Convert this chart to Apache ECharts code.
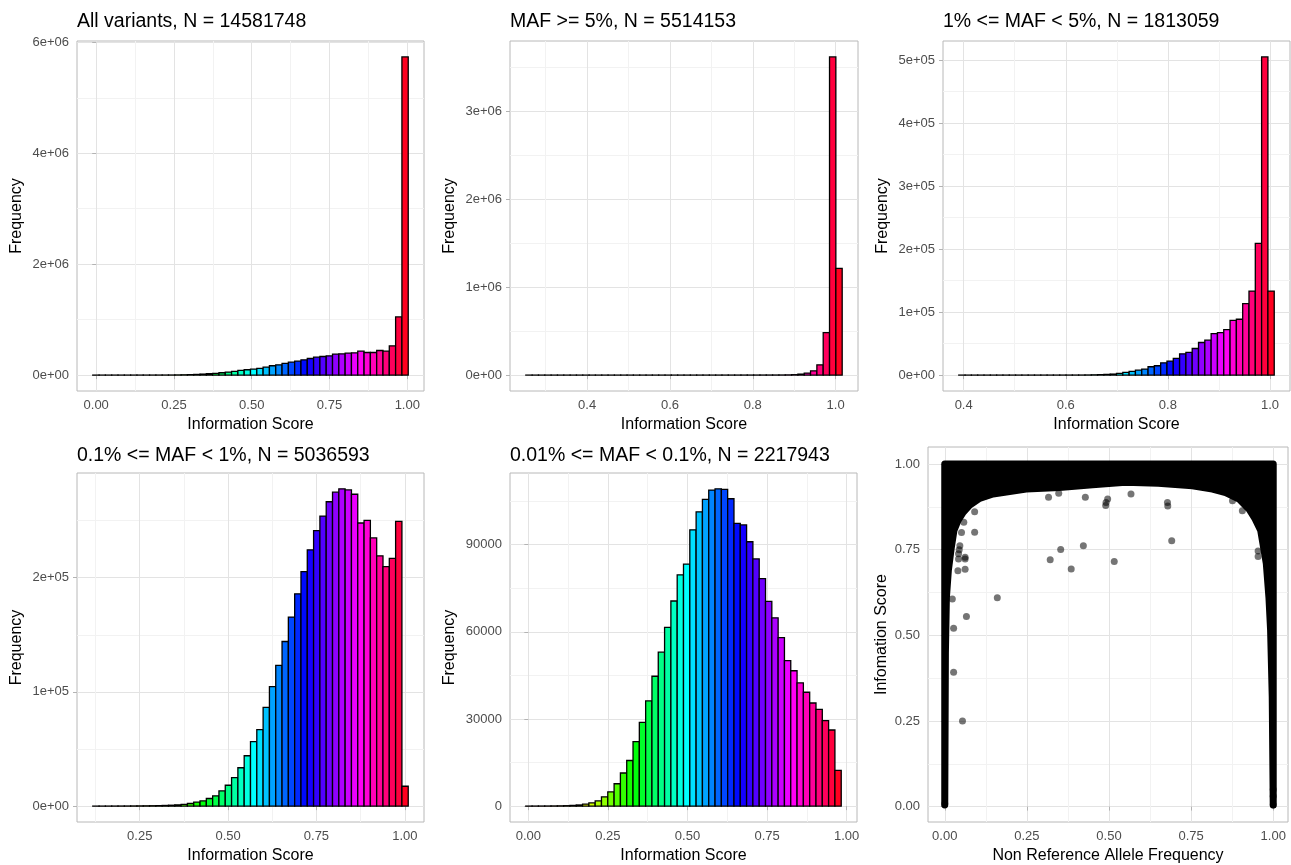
<!DOCTYPE html>
<html>
<head>
<meta charset="utf-8">
<title>info score histograms</title>
<script src="https://cdn.jsdelivr.net/npm/echarts@6/dist/echarts.min.js"></script>
<style>
  html, body { margin: 0; padding: 0; background: #fff; }
  #chart { width: 1291px; height: 865px; }
</style>
</head>
<body>
<div id="chart"></div>
<script>
// ---- data: 50 histogram bins per panel (left edge of first bin, bin width, counts) ----
var allStart = -0.011, allWidth = 0.02028;
var allCounts = [100, 120, 150, 180, 220, 270, 330, 400, 500, 650,
    850, 1100, 1600, 3000, 5000, 8000, 12000, 18000, 24000, 30000,
    42000, 54000, 66000, 84000, 96000, 108000, 120000, 144000, 168000, 186000,
    210000, 234000, 251000, 275000, 299000, 323000, 335000, 347000, 377000, 383000,
    395000, 401000, 431000, 407000, 407000, 443000, 431000, 527000, 1048000, 5737000];

var common5Start = 0.2519, common5Width = 0.01528;
var common5Counts = [5, 3, 4, 6, 5, 7, 8, 9, 11, 12,
    14, 16, 18, 21, 24, 28, 32, 37, 43, 50,
    58, 67, 78, 90, 105, 122, 142, 165, 192, 223,
    260, 300, 350, 400, 470, 550, 640, 750, 880, 1000,
    1300, 2200, 4500, 11000, 23000, 49000, 117000, 483000, 3620000, 1215000];

var low1Start = 0.3904, low1Width = 0.01236;
var low1Counts = [2, 2, 3, 3, 4, 5, 6, 7, 9, 11,
    13, 16, 20, 25, 31, 38, 47, 58, 75, 100,
    200, 400, 700, 1100, 1600, 2600, 4200, 5800, 7900, 9500,
    13200, 14800, 19500, 22200, 26400, 33800, 35900, 42200, 51700, 55400,
    65900, 67500, 72300, 87000, 88600, 113400, 133400, 208900, 505000, 133400];

var rare01Start = 0.1172, rare01Width = 0.01785;
var rare01Counts = [30, 40, 55, 75, 100, 130, 170, 220, 280, 350,
    450, 600, 800, 1100, 1500, 2300, 3500, 4600, 6700, 9000,
    13300, 18300, 24900, 33600, 44100, 56500, 67000, 86400, 104600, 123200,
    144100, 165500, 185800, 205200, 224300, 241200, 253900, 266400, 274800, 277700,
    276800, 273000, 247800, 250100, 234800, 219100, 209600, 216800, 249300, 17400];

var rare001Start = -0.008, rare001Width = 0.01982;
var rare001Counts = [20, 30, 40, 50, 70, 100, 150, 250, 400, 700,
    1100, 1800, 3200, 4900, 7700, 11400, 15700, 22200, 28800, 36200,
    44700, 53000, 61500, 70600, 79600, 83300, 95100, 101300, 105600, 108800,
    109200, 109000, 105800, 97300, 96800, 91000, 85100, 78300, 70500, 64800,
    58000, 50100, 46600, 42400, 39200, 35500, 33300, 29400, 26200, 12300];

// scatter: lower edge of the dense band (upper edge is info = 1) and the stray points
var bandX   = [0.000, 0.002, 0.005, 0.011, 0.020, 0.028, 0.040, 0.056, 0.076, 0.106,
    0.147, 0.248, 0.349, 0.450, 0.550, 0.650, 0.754, 0.815, 0.855, 0.896,
    0.926, 0.945, 0.962, 0.979, 0.987, 0.992, 0.997, 1.000];
var bandLow = [0.005, 0.45, 0.61, 0.69, 0.757, 0.806, 0.835, 0.859, 0.88, 0.90,
    0.913, 0.927, 0.932, 0.94, 0.947, 0.944, 0.937, 0.927, 0.917, 0.898,
    0.869, 0.84, 0.806, 0.709, 0.61, 0.515, 0.32, 0.005];
var bandTop = 1.0;
var strayPoints = [[0.160, 0.610], [0.321, 0.721], [0.353, 0.751], [0.385, 0.694], [0.422, 0.762],
    [0.516, 0.716], [0.691, 0.776], [0.678, 0.888], [0.679, 0.878], [0.091, 0.801],
    [0.091, 0.861], [0.066, 0.555], [0.054, 0.250], [0.027, 0.392], [0.027, 0.521],
    [0.023, 0.606], [0.040, 0.689], [0.062, 0.693], [0.062, 0.723], [0.062, 0.728],
    [0.042, 0.723], [0.042, 0.738], [0.044, 0.750], [0.046, 0.762], [0.051, 0.800],
    [0.058, 0.830], [0.491, 0.888], [0.496, 0.898], [0.490, 0.879], [0.567, 0.913],
    [0.316, 0.903], [0.347, 0.915], [0.428, 0.903], [0.954, 0.746], [0.954, 0.730],
    [0.906, 0.864], [0.876, 0.893], [0.0, 0.008], [1.0, 0.005], [1.0, 0.03], [1.0, 0.05]];

var titles = ['All variants, N = 14581748', 'MAF >= 5%, N = 5514153', '1% <= MAF < 5%, N = 1813059',
    '0.1% <= MAF < 1%, N = 5036593', '0.01% <= MAF < 0.1%, N = 2217943', ''];

// tick values per panel
var xTicks = [[0, 0.25, 0.5, 0.75, 1], [0.4, 0.6, 0.8, 1.0], [0.4, 0.6, 0.8, 1.0],
    [0.25, 0.5, 0.75, 1], [0, 0.25, 0.5, 0.75, 1], [0, 0.25, 0.5, 0.75, 1]];
var yTicks = [[0, 2e6, 4e6, 6e6], [0, 1e6, 2e6, 3e6], [0, 1e5, 2e5, 3e5, 4e5, 5e5],
    [0, 1e5, 2e5], [0, 30000, 60000, 90000], [0, 0.25, 0.5, 0.75, 1]];

// ---- layout ----
var boxes = [[77, 41, 347, 350], [510, 41, 348, 350], [943, 41, 347, 350],
             [77, 473, 347, 352], [510, 473, 347, 352], [928, 447, 360, 375]];
var xDecimals = [2, 1, 1, 2, 2, 2];
var font = "'Liberation Sans', Arial, sans-serif";

var hists = [
    [allStart, allWidth, allCounts],
    [common5Start, common5Width, common5Counts],
    [low1Start, low1Width, low1Counts],
    [rare01Start, rare01Width, rare01Counts],
    [rare001Start, rare001Width, rare001Counts]
];

function rainbow(h) {
    var i = Math.floor(h * 6), f = h * 6 - i, q = 1 - f, r, g, b;
    switch (i % 6) {
        case 0: r = 1; g = f; b = 0; break;
        case 1: r = q; g = 1; b = 0; break;
        case 2: r = 0; g = 1; b = f; break;
        case 3: r = 0; g = q; b = 1; break;
        case 4: r = f; g = 0; b = 1; break;
        default: r = 1; g = 0; b = q;
    }
    return 'rgb(' + Math.round(r * 255) + ',' + Math.round(g * 255) + ',' + Math.round(b * 255) + ')';
}

function sci(v) {
    if (v === 0) return '0e+00';
    var e = Math.floor(Math.log10(v) + 1e-9);
    var m = Math.round(v / Math.pow(10, e) * 100) / 100;
    return m + 'e+' + (e < 10 ? '0' + e : e);
}

function minors(majors, lo, hi) {
    var step = majors[1] - majors[0], out = [];
    for (var i = -1; i < majors.length; i++) {
        var v = majors[0] + (i + 0.5) * step;
        if (v > lo && v < hi) out.push(v);
    }
    return out;
}

// axis ranges (ggplot style 5% expansion)
var ranges = hists.map(function (h) {
    var n = h[2].length, span = n * h[1], mx = Math.max.apply(null, h[2]);
    return [h[0] - 0.05 * span, h[0] + span + 0.05 * span, -0.05 * mx, 1.05 * mx];
});
ranges.push([-0.051, 1.045, -0.045, 1.05]);

var grids = [], xAxes = [], yAxes = [], series = [], titleOpts = [];
var majorLine = {show: true, lineStyle: {color: '#e3e3e3', width: 1}};
var minorLine = {show: true, lineStyle: {color: '#f2f2f2', width: 1}};

boxes.forEach(function (b, i) {
    var r = ranges[i];
    grids.push({left: b[0], top: b[1], width: b[2], height: b[3], show: true,
        borderColor: '#b8b8b8', borderWidth: 1, backgroundColor: 'transparent'});
    if (titles[i]) {
        titleOpts.push({text: titles[i], left: b[0], top: i < 3 ? 12 : 446, padding: 0,
            textStyle: {fontSize: 19.5, fontWeight: 'normal', color: '#000', fontFamily: font}});
    }
    var dec = xDecimals[i];
    xAxes.push({
        type: 'value', gridIndex: i, min: r[0], max: r[1],
        name: i === 5 ? 'Non Reference Allele Frequency' : 'Information Score',
        nameLocation: 'middle', nameGap: 26,
        nameTextStyle: {fontSize: 16, color: '#000', fontFamily: font},
        axisLine: {show: false},
        axisTick: {show: true, length: 4, lineStyle: {color: '#b3b3b3'}, customValues: xTicks[i]},
        axisLabel: {customValues: xTicks[i], margin: 8, fontSize: 13, color: '#4d4d4d', fontFamily: font,
            formatter: function (v) { return v.toFixed(dec); }},
        splitLine: majorLine
    });
    xAxes.push({
        type: 'value', gridIndex: i, min: r[0], max: r[1], position: 'top',
        axisLine: {show: false}, axisLabel: {show: false},
        axisTick: {show: false, customValues: minors(xTicks[i], r[0], r[1])},
        splitLine: minorLine
    });
    yAxes.push({
        type: 'value', gridIndex: i, min: r[2], max: r[3],
        name: i === 5 ? 'Infomation Score' : 'Frequency',
        nameLocation: 'middle', nameGap: i === 5 ? 38 : 52,
        nameTextStyle: {fontSize: 16, color: '#000', fontFamily: font},
        axisLine: {show: false},
        axisTick: {show: true, length: 4, lineStyle: {color: '#b3b3b3'}, customValues: yTicks[i]},
        axisLabel: {customValues: yTicks[i], margin: 8, fontSize: 13, color: '#4d4d4d', fontFamily: font,
            formatter: function (v) {
                if (i === 5) return v.toFixed(2);
                if (i === 4) return String(Math.round(v));
                return sci(v);
            }},
        splitLine: majorLine
    });
    yAxes.push({
        type: 'value', gridIndex: i, min: r[2], max: r[3], position: 'right',
        axisLine: {show: false}, axisLabel: {show: false},
        axisTick: {show: false, customValues: minors(yTicks[i], r[2], r[3])},
        splitLine: minorLine
    });
});

hists.forEach(function (h, i) {
    var n = h[2].length;
    series.push({
        type: 'custom', xAxisIndex: 2 * i, yAxisIndex: 2 * i, silent: true,
        data: h[2].map(function (c, k) { return [h[0] + k * h[1], h[0] + (k + 1) * h[1], c, k]; }),
        encode: {x: [0, 1], y: 2},
        renderItem: function (params, api) {
            var p0 = api.coord([api.value(0), 0]);
            var p1 = api.coord([api.value(1), api.value(2)]);
            return {
                type: 'rect',
                shape: {x: p0[0], y: p1[1], width: p1[0] - p0[0], height: p0[1] - p1[1]},
                style: {fill: rainbow(api.value(3) / n), stroke: '#000', lineWidth: 1.3}
            };
        }
    });
});

// scatter panel
series.push({
    type: 'custom', xAxisIndex: 10, yAxisIndex: 10, silent: true,
    data: [[0, bandTop]],
    renderItem: function (params, api) {
        var pts = [], j;
        for (j = 0; j < bandX.length; j++) pts.push(api.coord([bandX[j], bandTop]));
        for (j = bandX.length - 1; j >= 0; j--) pts.push(api.coord([bandX[j], bandLow[j]]));
        return {type: 'polygon', shape: {points: pts},
            style: {fill: '#000', stroke: '#000', lineWidth: 7, lineJoin: 'round'}};
    }
});
series.push({
    type: 'scatter', xAxisIndex: 10, yAxisIndex: 10, silent: true,
    symbolSize: 7, data: strayPoints,
    itemStyle: {color: 'rgba(0,0,0,0.68)'}
});

var chart = echarts.init(document.getElementById('chart'), null, {renderer: 'canvas'});
chart.setOption({
    backgroundColor: '#fff',
    animation: false,
    title: titleOpts,
    grid: grids,
    xAxis: xAxes,
    yAxis: yAxes,
    series: series
});
</script>
</body>
</html>
